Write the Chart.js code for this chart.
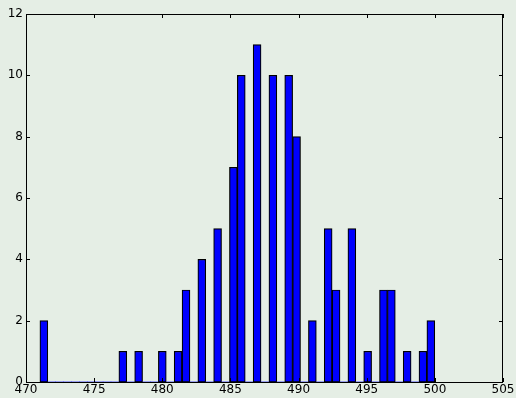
<!DOCTYPE html>
<html>
<head>
<meta charset="utf-8">
<script src="https://cdn.jsdelivr.net/npm/chart.js@4/dist/chart.umd.min.js"></script>
<style>
  html, body { margin: 0; padding: 0; background: #e5eee5; }
  #wrap { width: 516px; height: 398px; }
</style>
</head>
<body>
<div id="wrap"><canvas id="hist" width="516" height="398"></canvas></div>
<script>
// Histogram: 50 equal bins starting at binStart, each binWidth wide
const binStart = 471.02;
const binWidth = 0.5795;
const counts = [
  2, 0, 0, 0, 0, 0, 0, 0, 0, 0,
  1, 0, 1, 0, 0, 1, 0, 1, 3, 0,
  4, 0, 5, 0, 7, 10, 0, 11, 0, 10,
  0, 10, 8, 0, 2, 0, 5, 3, 0, 5,
  0, 1, 0, 3, 3, 0, 1, 0, 1, 2
];
const xTicks = [470, 475, 480, 485, 490, 495, 500, 505];
const yTicks = [0, 2, 4, 6, 8, 10, 12];

const points = counts.map((c, i) => ({ x: binStart + (i + 0.5) * binWidth, y: c }));

const FONT = { family: 'DejaVu Sans', size: 12 };

// Frame around the plot and inward tick marks on all four sides
const framePlugin = {
  id: 'frame',
  afterDraw(chart) {
    const { ctx, chartArea: a, scales } = chart;
    const len = 4;
    ctx.save();
    ctx.strokeStyle = '#000';
    ctx.lineWidth = 1;
    ctx.beginPath();
    xTicks.forEach(v => {
      const px = Math.round(scales.x.getPixelForValue(v)) + 0.5;
      ctx.moveTo(px, a.bottom); ctx.lineTo(px, a.bottom - len);
      ctx.moveTo(px, a.top); ctx.lineTo(px, a.top + len);
    });
    yTicks.forEach(v => {
      const py = Math.round(scales.y.getPixelForValue(v)) + 0.5;
      ctx.moveTo(a.left, py); ctx.lineTo(a.left + len, py);
      ctx.moveTo(a.right, py); ctx.lineTo(a.right - len, py);
    });
    ctx.stroke();
    ctx.strokeRect(a.left + 0.5, a.top + 0.5, a.right - a.left - 1, a.bottom - a.top);
    ctx.restore();
  }
};

new Chart(document.getElementById('hist'), {
  type: 'bar',
  data: {
    datasets: [{
      data: points,
      backgroundColor: '#0000ff',
      borderColor: '#000000',
      borderWidth: ctx => (ctx.raw && ctx.raw.y > 0 ? 1.2 : 0),
      borderSkipped: false,
      barPercentage: 1,
      categoryPercentage: 1
    }]
  },
  options: {
    responsive: false,
    animation: false,
    events: [],
    layout: { padding: { top: 14, right: 13, left: 0, bottom: 0 } },
    plugins: { legend: { display: false }, tooltip: { enabled: false } },
    scales: {
      x: {
        type: 'linear',
        offset: false,
        min: 470,
        max: 505,
        afterBuildTicks: s => { s.ticks = xTicks.map(v => ({ value: v })); },
        afterFit: s => { s.height = 16; },
        grid: { display: false, drawTicks: false },
        border: { display: false },
        ticks: { font: FONT, color: '#000', padding: 1, maxRotation: 0, autoSkip: false }
      },
      y: {
        min: 0,
        max: 12,
        afterBuildTicks: s => { s.ticks = yTicks.map(v => ({ value: v })); },
        afterFit: s => { s.width = 26; },
        grid: { display: false, drawTicks: false },
        border: { display: false },
        ticks: { font: FONT, color: '#000', padding: 3 }
      }
    }
  },
  plugins: [framePlugin]
});
</script>
</body>
</html>
